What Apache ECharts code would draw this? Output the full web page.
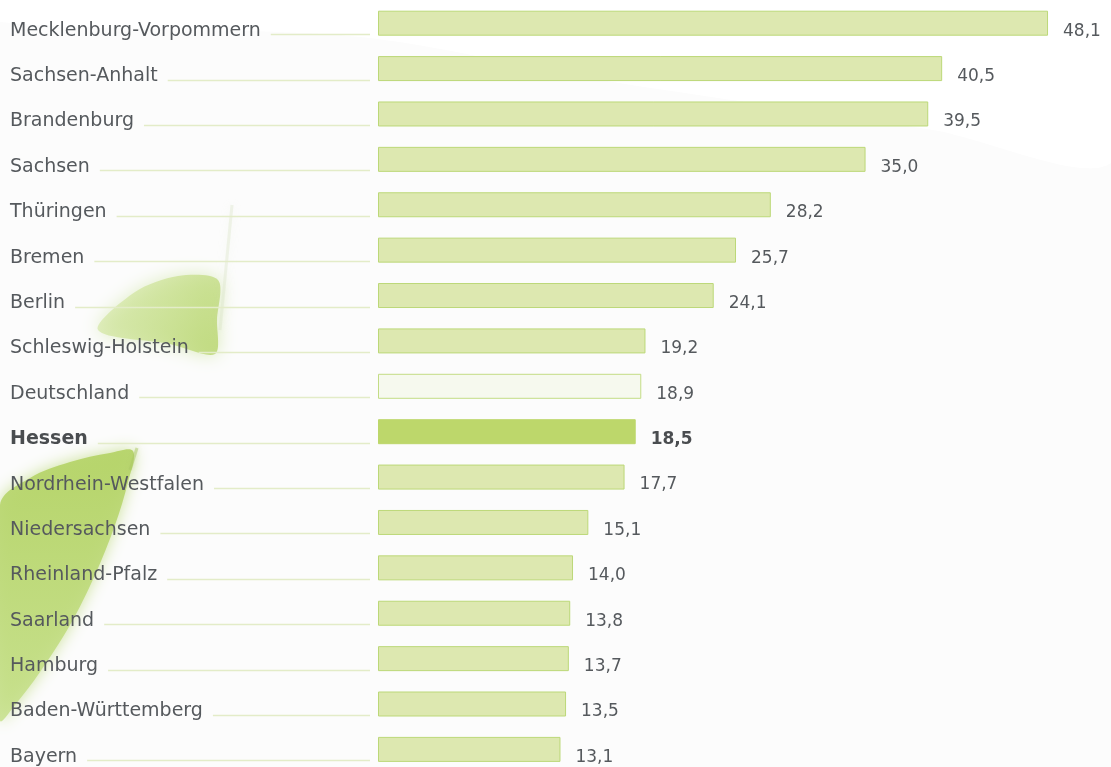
<!DOCTYPE html>
<html>
<head>
<meta charset="utf-8">
<script src="https://cdn.jsdelivr.net/npm/echarts@6/dist/echarts.min.js"></script>
<style>
  html, body { margin: 0; padding: 0; background: #ffffff; }
  #chart { width: 1111px; height: 767px; }
</style>
</head>
<body>
<div id="chart"></div>
<script>
// Bundesländer, sorted by value (top to bottom)
const categories = [
  'Mecklenburg-Vorpommern', 'Sachsen-Anhalt', 'Brandenburg', 'Sachsen',
  'Thüringen', 'Bremen', 'Berlin', 'Schleswig-Holstein', 'Deutschland',
  'Hessen', 'Nordrhein-Westfalen', 'Niedersachsen', 'Rheinland-Pfalz',
  'Saarland', 'Hamburg', 'Baden-Württemberg', 'Bayern'
];
const values = [48.1, 40.5, 39.5, 35.0, 28.2, 25.7, 24.1, 19.2, 18.9,
                18.5, 17.7, 15.1, 14.0, 13.8, 13.7, 13.5, 13.1];
const highlight = 'Hessen';
const reference = 'Deutschland';

const LABEL_FONT = '"DejaVu Sans", sans-serif';
const LABEL_SIZE = 19;
const LABEL_X = 10;
const AXIS_LEFT = 378;

// measure category label widths so the leader lines start just after the text
const measureCtx = document.createElement('canvas').getContext('2d');
function textWidth(txt, bold) {
  measureCtx.font = (bold ? 'bold ' : '') + LABEL_SIZE + 'px ' + LABEL_FONT;
  return measureCtx.measureText(txt).width;
}

const barData = values.map((v, i) => {
  const name = categories[i];
  let itemStyle = { color: '#dde8b0', borderColor: '#bcd878', borderWidth: 1 };
  let label = {};
  if (name === highlight) {
    itemStyle = { color: '#bdd76b', borderColor: '#bdd76b', borderWidth: 1 };
    label = { fontWeight: 'bold', color: '#4a4d50' };
  } else if (name === reference) {
    itemStyle = { color: '#f6f9ee', borderColor: '#c3dc85', borderWidth: 1 };
  }
  return { value: v, itemStyle, label };
});

const chart = echarts.init(document.getElementById('chart'), null, { renderer: 'canvas' });

chart.setOption({
  backgroundColor: '#fcfcfc',
  animation: false,
  graphic: [
    // pale backdrop sweep
    {
      type: 'polygon', z: 0, silent: true,
      shape: { points: [[0,0],[1111,0],[1111,163],[933,130],[600,80],[360,37],[0,22]], smooth: 0.3 },
      style: { fill: '#ffffff' }
    },
    // large leaf, lower left
    {
      type: 'polygon', z: 0, silent: true,
      shape: {
        points: [[0,505],[30,478],[70,462],[110,453],[133,451],[128,482],[115,525],
                 [95,575],[70,625],[40,672],[15,705],[0,720]],
        smooth: 0.35
      },
      style: {
        fill: new echarts.graphic.LinearGradient(0, 0, 0, 1, [
          { offset: 0, color: 'rgba(180,211,102,0.92)' },
          { offset: 1, color: 'rgba(198,224,138,0.85)' }
        ]),
        shadowBlur: 16, shadowColor: 'rgba(185,215,115,0.8)'
      }
    },
    // small leaf, middle left
    {
      type: 'polygon', z: 0, silent: true,
      shape: {
        points: [[98,330],[135,292],[178,276],[218,280],[217,320],[215,354],[170,344]],
        smooth: 0.3
      },
      style: {
        fill: new echarts.graphic.LinearGradient(0, 0, 1, 1, [
          { offset: 0, color: 'rgba(215,233,170,0.6)' },
          { offset: 1, color: 'rgba(185,214,112,0.85)' }
        ]),
        shadowBlur: 18, shadowColor: 'rgba(200,225,150,0.8)'
      }
    },
    // faint stems
    {
      type: 'line', z: 0, silent: true,
      shape: { x1: 232, y1: 205, x2: 220, y2: 330 },
      style: { stroke: 'rgba(215,225,195,0.35)', lineWidth: 3, shadowBlur: 8, shadowColor: 'rgba(215,225,195,0.5)' }
    },
    {
      type: 'line', z: 0, silent: true,
      shape: { x1: 137, y1: 448, x2: 130, y2: 470 },
      style: { stroke: 'rgba(170,200,100,0.5)', lineWidth: 3, shadowBlur: 4, shadowColor: 'rgba(170,200,100,0.5)' }
    }
  ],
  grid: { left: AXIS_LEFT, width: 696.5, top: 23.2, bottom: 17.6, containLabel: false },
  xAxis: {
    type: 'value', min: 0, max: 50, show: false
  },
  yAxis: {
    type: 'category',
    data: categories,
    inverse: true,
    boundaryGap: false,
    axisLine: { show: false },
    axisTick: { show: false },
    splitLine: { show: false },
    axisLabel: {
      align: 'left',
      margin: AXIS_LEFT - LABEL_X,
      fontFamily: LABEL_FONT,
      fontSize: LABEL_SIZE,
      color: '#55595d',
      padding: [15, 0, 0, 0],
      formatter: (v) => v === highlight ? '{b|' + v + '}' : v,
      rich: {
        b: { fontFamily: LABEL_FONT, fontSize: LABEL_SIZE, fontWeight: 'bold', color: '#4a4d50' }
      }
    }
  },
  series: [
    {
      type: 'bar',
      data: barData,
      barWidth: 25,
      z: 3,
      label: {
        show: true,
        position: 'right',
        distance: 15,
        offset: [0, 8],
        fontFamily: LABEL_FONT,
        fontSize: 17,
        color: '#55595d',
        formatter: (p) => p.value.toFixed(1).replace('.', ',')
      }
    },
    {
      // leader lines from each category label to the bar start
      type: 'custom',
      z: 2,
      silent: true,
      data: categories.map((c, i) => [0, i]),
      encode: { x: 0, y: 1 },
      renderItem: (params, api) => {
        const idx = api.value(1);
        const pt = api.coord([0, idx]);
        const name = categories[idx];
        const x1 = LABEL_X + textWidth(name, name === highlight) + 10;
        const y = Math.round(pt[1] + 11) + 0.5;
        return {
          type: 'line',
          shape: { x1: x1, y1: y, x2: AXIS_LEFT - 8, y2: y },
          style: { stroke: '#e3ecc8', lineWidth: 1.5 }
        };
      }
    }
  ]
});
</script>
</body>
</html>
